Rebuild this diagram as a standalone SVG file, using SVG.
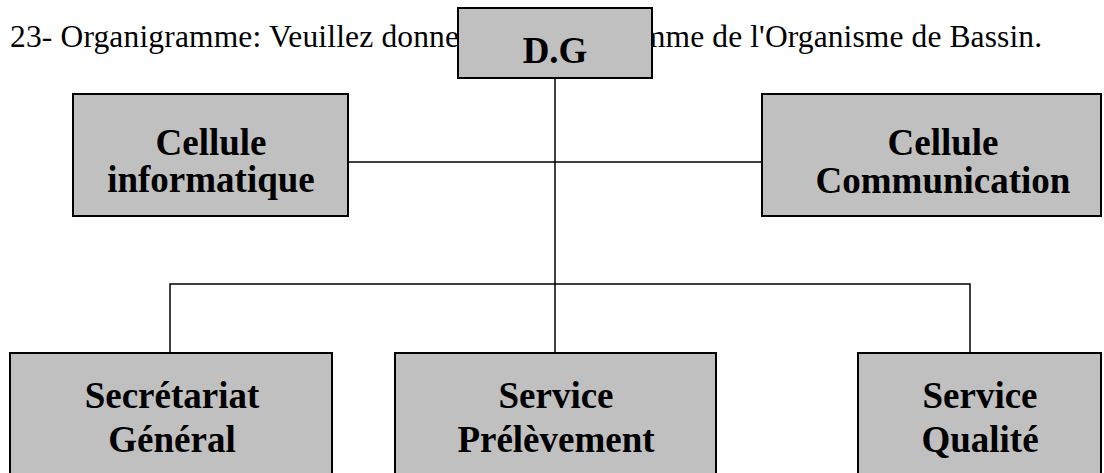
<svg xmlns="http://www.w3.org/2000/svg" width="1104" height="473" viewBox="0 0 1104 473">
<style>
text{font-family:'Liberation Serif','Times New Roman','DejaVu Serif',serif}
.title{font-size:31.5px;fill:#000}
.box{fill:#c0c0c0;stroke:#000;stroke-width:2}
.lbl{font-size:37px;font-weight:bold;fill:#000;text-anchor:middle}
.conn{stroke:#000;stroke-width:1.5;fill:none}
</style>
<rect width="1104" height="473" fill="#fff"/>
<text class="title" x="10" y="47" textLength="449" lengthAdjust="spacing">23- Organigramme: Veuillez donne</text>
<text class="title" x="641" y="47" textLength="401" lengthAdjust="spacing">mme de l'Organisme de Bassin.</text>
<g id="connectors">
<line class="conn" x1="555" y1="78" x2="555" y2="353"/>
<line class="conn" x1="348" y1="162" x2="762" y2="162"/>
<polyline class="conn" points="170,353 170,284 970,284 970,353"/>
</g>
<g id="dg">
<rect class="box" x="458" y="8" width="194" height="70"/>
<text class="lbl" x="555" y="63">D.G</text>
</g>
<g id="cellule-informatique">
<rect class="box" x="73" y="94" width="275" height="122"/>
<text class="lbl" x="211" y="155">Cellule</text>
<text class="lbl" x="211" y="192">informatique</text>
</g>
<g id="cellule-communication">
<rect class="box" x="762" y="94" width="339" height="122"/>
<text class="lbl" x="943" y="155">Cellule</text>
<text class="lbl" x="943" y="193">Communication</text>
</g>
<g id="secretariat-general">
<rect class="box" x="10" y="353" width="322" height="130"/>
<text class="lbl" x="172" y="408">Secrétariat</text>
<text class="lbl" x="172" y="452">Général</text>
</g>
<g id="service-prelevement">
<rect class="box" x="395" y="353" width="321" height="130"/>
<text class="lbl" x="556" y="408">Service</text>
<text class="lbl" x="556" y="452">Prélèvement</text>
</g>
<g id="service-qualite">
<rect class="box" x="858" y="353" width="243" height="130"/>
<text class="lbl" x="980" y="408">Service</text>
<text class="lbl" x="980" y="452">Qualité</text>
</g>
</svg>
